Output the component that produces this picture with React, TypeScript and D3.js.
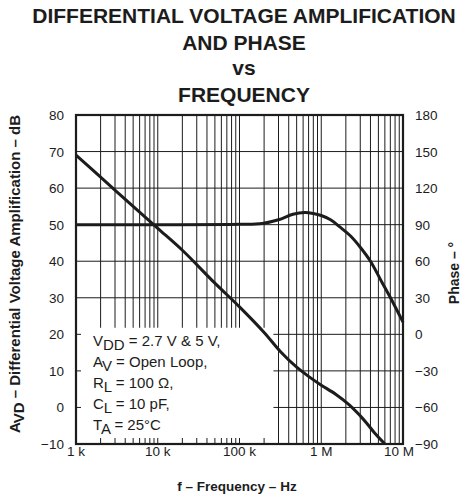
import React from "react";
import * as d3 from "d3";

// gain curve (left axis, dB)
const gainFreq = [1e3, 2e3, 5e3, 1e4, 2e4, 5e4, 1e5, 2e5, 3.16e5, 5e5, 7.2e5, 1e6, 1.5e6, 2.2e6, 3e6, 3.6e6, 4.5e6, 6e6];
const gainDb = [69, 63, 55, 49, 43, 34, 27.5, 20.5, 15.3, 11, 8.3, 6.1, 3.6, 0.7, -2.3, -4.3, -7, -10];

// phase curve (right axis, degrees)
const phaseFreq = [1e3, 1e4, 1e5, 1.9e5, 3e5, 4.5e5, 6.3e5, 8e5, 1e6, 1.3e6, 1.7e6, 2.3e6, 3e6, 4e6, 5.5e6, 6.9e6, 1e7];
const phaseDeg = [90, 90, 90.3, 91, 94, 98.5, 100, 99.2, 97.5, 94, 88, 80.5, 71.5, 60, 43, 31, 10];

const dbTicks = [80, 70, 60, 50, 40, 30, 20, 10, 0, -10];
const degTicks = [180, 150, 120, 90, 60, 30, 0, -30, -60, -90];
const freqTicks = [1e3, 1e4, 1e5, 1e6, 1e7];
const freqLabels = ["1 k", "10 k", "100 k", "1 M", "10 M"];

const legendLines = [
  ["V", "DD", " = 2.7 V & 5 V,"],
  ["A", "V", " = Open Loop,"],
  ["R", "L", " = 100 \u03A9,"],
  ["C", "L", " = 10 pF,"],
  ["T", "A", " = 25\u00B0C"],
];

const titleLines = ["DIFFERENTIAL VOLTAGE AMPLIFICATION", "AND PHASE", "vs", "FREQUENCY"];

const font = "'Liberation Sans', Arial, Helvetica, sans-serif";
const ink = "#1c1c1c";

const App: React.FC = () => {
  const width = 463;
  const height = 500;
  const left = 76, right = 403, top = 115, bottom = 444;

  const x = d3.scaleLog().domain([1e3, 1e7]).range([left, right]);
  const yL = d3.scaleLinear().domain([-10, 80]).range([bottom, top]);
  const yR = d3.scaleLinear().domain([-90, 180]).range([bottom, top]);

  // minor grid positions 1..9 per decade
  const vGrid: number[] = [];
  for (let k = 3; k < 7; k++) for (let m = 1; m < 10; m++) vGrid.push(m * Math.pow(10, k));
  vGrid.push(1e7);

  const boxX1 = x(2.6e5);
  const boxY0 = yL(21.8);

  const gainLine = d3
    .line<number>()
    .x((_, i) => x(gainFreq[i]))
    .y((d) => yL(d))
    .curve(d3.curveCatmullRom.alpha(0.5))(gainDb);

  const phaseLine = d3
    .line<number>()
    .x((_, i) => x(phaseFreq[i]))
    .y((d) => yR(d))
    .curve(d3.curveCatmullRom.alpha(0.5))(phaseDeg);

  const titleY = [22.5, 49.5, 75, 101.5];
  const legendY = [346, 367, 388, 409, 430];

  return (
    <svg
      width={width}
      height={height}
      style={{ position: "absolute", left: 0, top: 0, background: "#fff" }}
      fontFamily={font}
    >
      {titleLines.map((t, i) => (
        <text key={t} x={244} y={titleY[i]} textAnchor="middle" fontSize={21} fontWeight="bold" fill={ink}>
          {t}
        </text>
      ))}

      {/* grid */}
      <g stroke={ink} strokeWidth={1}>
        {vGrid.map((f) => (
          <line key={"v" + f} x1={x(f)} x2={x(f)} y1={top} y2={bottom} />
        ))}
        {dbTicks.map((d) => (
          <line key={"h" + d} x1={left} x2={right} y1={yL(d)} y2={yL(d)} />
        ))}
      </g>

      {/* legend box masks the grid, short ticks stay */}
      <rect x={left} y={boxY0} width={boxX1 - left} height={bottom - boxY0} fill="#fff" />
      <g stroke={ink} strokeWidth={1}>
        {vGrid
          .filter((f) => x(f) < boxX1)
          .map((f) => (
            <line key={"bt" + f} x1={x(f)} x2={x(f)} y1={bottom - 6} y2={bottom} />
          ))}
        {dbTicks
          .filter((d) => yL(d) > boxY0)
          .map((d) => (
            <line key={"lt" + d} x1={left} x2={left + 5} y1={yL(d)} y2={yL(d)} />
          ))}
      </g>

      <rect x={left} y={top} width={right - left} height={bottom - top} fill="none" stroke={ink} strokeWidth={2.2} />

      <path d={gainLine || ""} fill="none" stroke={ink} strokeWidth={3} />
      <path d={phaseLine || ""} fill="none" stroke={ink} strokeWidth={3} />

      {/* legend */}
      <g fontSize={15} fill={ink}>
        {legendLines.map((l, i) => (
          <text key={i} x={93} y={legendY[i]}>
            {l[0]}
            <tspan dy={4}>{l[1]}</tspan>
            <tspan dy={-4}>{l[2]}</tspan>
          </text>
        ))}
      </g>

      {/* tick labels */}
      <g fontSize={13.5} fill={ink}>
        {dbTicks.map((d) => (
          <text key={"ll" + d} x={64} y={yL(d) + 5} textAnchor="end">
            {d < 0 ? "\u2212" + Math.abs(d) : d}
          </text>
        ))}
        {degTicks.map((d) => (
          <text key={"rl" + d} x={415} y={yR(d) + 5}>
            {d < 0 ? "\u2212" + Math.abs(d) : d}
          </text>
        ))}
        {freqTicks.map((f, i) => (
          <text key={"fl" + f} x={x(f) - (i === 4 ? 4 : 0)} y={456} textAnchor="middle">
            {freqLabels[i]}
          </text>
        ))}
      </g>

      {/* axis titles */}
      <text x={237} y={491} textAnchor="middle" fontSize={13.5} fontWeight="bold" fill={ink}>
        f – Frequency – Hz
      </text>
      <text
        transform={`translate(20,274) rotate(-90)`}
        textAnchor="middle"
        fontSize={15}
        fontWeight="bold"
        fill={ink}
      >
        A<tspan dy={4}>VD</tspan>
        <tspan dy={-4}> – Differential Voltage Amplification – dB</tspan>
      </text>
      <text transform={`translate(459,273) rotate(-90)`} textAnchor="middle" fontSize={14} fontWeight="bold" fill={ink}>
        Phase – °
      </text>
    </svg>
  );
};

export default App;
